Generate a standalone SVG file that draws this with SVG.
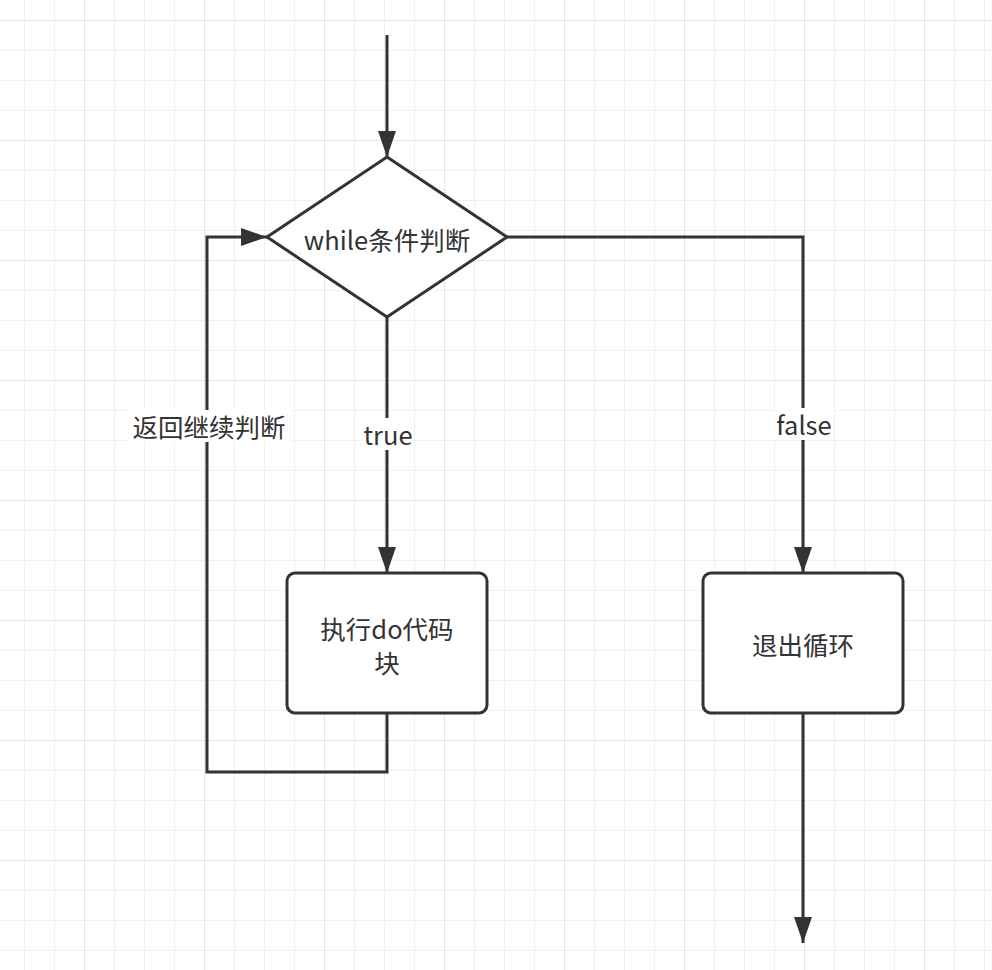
<svg xmlns="http://www.w3.org/2000/svg" width="992" height="970" viewBox="0 0 992 970">
<defs>
<pattern id="minor" x="24" y="20" width="30" height="30" patternUnits="userSpaceOnUse">
<path d="M0 0V30M0 0H30" fill="none" stroke="#f0f0f0" stroke-width="2"/>
</pattern>
<pattern id="major" x="84" y="20" width="120" height="120" patternUnits="userSpaceOnUse">
<path d="M0 0V120M0 0H120" fill="none" stroke="#e6e6e6" stroke-width="2"/>
</pattern>
<marker id="arr" viewBox="0 0 26 18" refX="26" refY="9" markerWidth="26" markerHeight="18" markerUnits="userSpaceOnUse" orient="auto">
<path d="M0 0L26 9L0 18Z" fill="#333"/>
</marker>
</defs>
<style>
.ln{fill:none;stroke:#333;stroke-width:3}
.nd{fill:#fff;stroke:#333;stroke-width:3}
.t{font-family:"Noto Sans CJK SC","Noto Sans",sans-serif;font-size:25.5px;fill:#333;text-anchor:middle;dominant-baseline:central}
.bg{fill:#fff}
</style>
<rect width="992" height="970" fill="#fff"/>
<rect width="992" height="970" fill="url(#minor)"/>
<rect width="992" height="970" fill="url(#major)"/>
<g id="connectors">
<path class="ln" d="M387 35V157" marker-end="url(#arr)"/>
<path class="ln" d="M387 317V573" marker-end="url(#arr)"/>
<path class="ln" d="M507 237H803V573" marker-end="url(#arr)"/>
<path class="ln" d="M803 713V943" marker-end="url(#arr)"/>
<path class="ln" d="M387 713V772H207V237H267" marker-end="url(#arr)"/>
<rect class="bg" x="363" y="418" width="50" height="32"/>
<text class="t" x="388" y="433">true</text>
<rect class="bg" x="774" y="408" width="60" height="32"/>
<text class="t" x="804" y="423">false</text>
<rect class="bg" x="127" y="410" width="164" height="32"/>
<text class="t" x="209" y="425">返回继续判断</text>
</g>
<g id="cond">
<path class="nd" d="M387 157L507 237L387 317L267 237Z"/>
<text class="t" x="387" y="238">while条件判断</text>
</g>
<g id="doblock">
<rect class="nd" x="287" y="573" width="200" height="140" rx="8"/>
<text class="t" x="387" y="627">执行do代码</text>
<text class="t" x="387" y="661">块</text>
</g>
<g id="exit">
<rect class="nd" x="703" y="573" width="200" height="140" rx="8"/>
<text class="t" x="803" y="643">退出循环</text>
</g>
</svg>
